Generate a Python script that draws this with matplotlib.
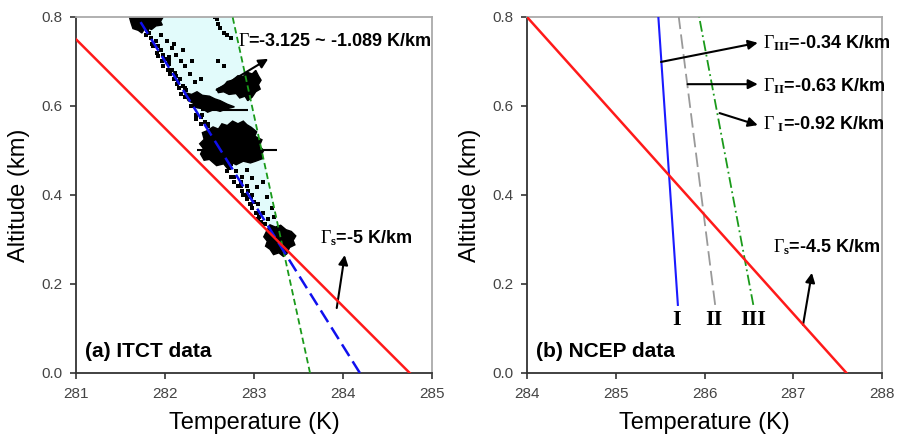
"""Lapse-rate comparison: ITCT sounding data vs NCEP profiles."""
import matplotlib
matplotlib.use("Agg")
import matplotlib.pyplot as plt

plt.rcParams["font.family"] = ["Liberation Sans", "DejaVu Sans"]
plt.rcParams["mathtext.fontset"] = "custom"
plt.rcParams["mathtext.rm"] = "Liberation Serif"
plt.rcParams["mathtext.it"] = "Liberation Serif:italic"
plt.rcParams["mathtext.bf"] = "Liberation Serif:bold"

# ---- panel (a): ITCT data ----
alt_a = [0.0, 0.8]
red_a = [284.75, 280.75]          # Gamma_s = -5 K/km
blue_a = [284.19, 281.69]         # -3.125 K/km
green_a = [283.63, 282.76]        # -1.089 K/km
fill_z = [0.275, 0.8]
fill_blue = [283.33, 281.69]
fill_green = [283.33, 282.76]

# dense clouds of sonde points (outline of each cloud)
blob1_T = [281.60, 281.98, 281.95, 281.97, 281.90, 281.85, 281.78, 281.74, 281.70, 281.64, 281.62]
blob1_z = [0.800, 0.800, 0.790, 0.782, 0.780, 0.772, 0.776, 0.764, 0.770, 0.774, 0.786]
blob2_T = [282.58, 282.66, 282.70, 282.76, 282.82, 282.88, 282.92, 282.98, 283.02, 283.05, 283.08,
           283.05, 283.07, 283.02, 282.98, 282.93, 282.90, 282.84, 282.80, 282.72, 282.66, 282.60]
blob2_z = [0.638, 0.645, 0.655, 0.658, 0.668, 0.666, 0.676, 0.672, 0.680, 0.668, 0.658,
           0.648, 0.638, 0.632, 0.620, 0.612, 0.622, 0.618, 0.628, 0.626, 0.632, 0.630]
blob3_T = [282.22, 282.30, 282.36, 282.42, 282.50, 282.56, 282.62, 282.70, 282.78,
           282.70, 282.62, 282.55, 282.48, 282.42, 282.36, 282.32, 282.26, 282.24]
blob3_z = [0.630, 0.626, 0.632, 0.624, 0.622, 0.616, 0.612, 0.604, 0.598,
           0.594, 0.588, 0.592, 0.586, 0.594, 0.596, 0.606, 0.612, 0.620]
blob4_T = [282.54, 282.60, 282.64, 282.70, 282.76, 282.82, 282.88, 282.92, 282.97, 283.03, 283.01,
           283.09, 283.06, 283.11, 283.08, 283.10, 283.02, 282.96, 282.88, 282.80, 282.76, 282.70,
           282.66, 282.58, 282.50, 282.44, 282.40, 282.43, 282.39, 282.44, 282.42, 282.48]
blob4_z = [0.553, 0.548, 0.560, 0.556, 0.566, 0.560, 0.566, 0.558, 0.552, 0.542, 0.532,
           0.524, 0.510, 0.500, 0.490, 0.482, 0.476, 0.472, 0.476, 0.468, 0.472, 0.460,
           0.470, 0.466, 0.480, 0.478, 0.492, 0.505, 0.515, 0.525, 0.540, 0.545]
blob5_T = [283.18, 283.24, 283.30, 283.36, 283.42, 283.47, 283.44, 283.46, 283.40,
           283.37, 283.33, 283.28, 283.22, 283.18, 283.13, 283.15, 283.11, 283.14]
blob5_z = [0.333, 0.328, 0.332, 0.322, 0.318, 0.308, 0.298, 0.288, 0.282,
           0.268, 0.262, 0.270, 0.266, 0.278, 0.285, 0.296, 0.306, 0.318]

# scattered individual points
dots_T = [281.80, 281.84, 281.90, 281.86, 281.95, 281.92, 282.00, 282.04, 281.98, 282.08,
          282.12, 282.06, 282.15, 282.20, 282.13, 282.24, 282.18, 281.95, 282.02, 282.08,
          282.12, 282.18, 282.22, 282.28, 282.34, 282.10, 282.20, 282.05, 282.30, 282.40,
          282.56, 282.58, 282.60, 282.62, 282.66, 282.70, 282.74, 282.70, 282.74, 282.78,
          282.82, 282.86, 282.88, 282.92, 282.95, 282.98, 283.02, 283.06, 283.04, 282.85,
          282.93, 282.97, 283.00, 283.08, 283.12, 282.92, 282.98, 283.03, 283.15, 283.10,
          283.20, 282.40, 282.45, 282.48, 282.22, 282.30, 282.35, 282.60, 282.66, 283.22,
          281.69, 281.74, 281.79, 281.85, 281.91, 281.97, 282.03, 282.10, 282.16, 282.22,
          282.29, 282.35, 282.41, 282.60, 282.66, 282.72, 282.78, 282.85, 282.91, 282.97,
          283.03, 281.76, 281.82, 281.92, 281.98, 282.04, 282.11, 282.17, 282.23, 282.29,
          282.35, 282.42, 282.48, 282.68, 282.74, 282.80, 282.86, 282.92, 282.98, 283.04,
          283.10, 283.16]
dots_z = [0.770, 0.752, 0.745, 0.735, 0.725, 0.712, 0.705, 0.695, 0.690, 0.680,
          0.668, 0.672, 0.655, 0.645, 0.650, 0.635, 0.628, 0.760, 0.745, 0.730,
          0.715, 0.700, 0.690, 0.672, 0.655, 0.740, 0.725, 0.710, 0.700, 0.660,
          0.800, 0.795, 0.785, 0.775, 0.765, 0.760, 0.752, 0.455, 0.440, 0.430,
          0.420, 0.410, 0.400, 0.390, 0.380, 0.370, 0.360, 0.350, 0.345, 0.430,
          0.410, 0.395, 0.385, 0.340, 0.335, 0.456, 0.438, 0.418, 0.396, 0.430,
          0.370, 0.575, 0.565, 0.555, 0.620, 0.600, 0.570, 0.700, 0.690, 0.350,
          0.790, 0.775, 0.760, 0.740, 0.720, 0.700, 0.680, 0.660, 0.640, 0.620,
          0.600, 0.580, 0.560, 0.500, 0.480, 0.460, 0.440, 0.420, 0.400, 0.380,
          0.360, 0.785, 0.765, 0.735, 0.715, 0.700, 0.675, 0.660, 0.640, 0.620,
          0.600, 0.580, 0.560, 0.490, 0.470, 0.455, 0.440, 0.420, 0.400, 0.380,
          0.360, 0.345]

err_z = [0.501, 0.591]
err_lo = [282.36, 282.40]
err_hi = [283.26, 282.93]

# ---- panel (b): NCEP data ----
alt_b = [0.0, 0.8]
red_b = [287.60, 284.00]          # Gamma_s = -4.5 K/km
prof_z = [0.153, 0.8]
prof_I = [285.70, 285.48]         # blue solid
prof_II = [286.12, 285.71]        # gray dashed
prof_III = [286.55, 285.94]       # green dash-dot
case_labels = ["I", "II", "III"]
case_T = [285.69, 286.11, 286.55]

TXT = dict(fontsize=13, fontweight="bold", ha="left", va="center", clip_on=False)
ARROW = dict(arrowstyle="-|>", color="black", lw=1.5, mutation_scale=14,
             shrinkA=0, shrinkB=0)


def style_axes(ax, xlim, xticks):
    ax.set_xlim(*xlim)
    ax.set_ylim(0, 0.8)
    ax.set_xticks(xticks)
    ax.set_xticklabels([str(t) for t in xticks])
    ax.set_yticks([0.0, 0.2, 0.4, 0.6, 0.8])
    ax.set_yticklabels([f"{v:.1f}" for v in [0.0, 0.2, 0.4, 0.6, 0.8]])
    ax.tick_params(direction="out", length=4, width=1.2, colors="#333333",
                   labelcolor="#444444", labelsize=11, pad=6)
    ax.spines["left"].set_color("#333333")
    ax.spines["bottom"].set_color("#333333")
    ax.spines["top"].set_color("#aaaaaa")
    ax.spines["right"].set_color("#aaaaaa")
    for s in ax.spines.values():
        s.set_linewidth(1.3)
    ax.set_xlabel("Temperature (K)", fontsize=17, labelpad=8)
    ax.set_ylabel("Altitude (km)", fontsize=17, labelpad=8)


fig = plt.figure(figsize=(8.99, 4.41), dpi=100)
ax1 = fig.add_axes([0.0845, 0.1542, 0.396, 0.8073])
ax2 = fig.add_axes([0.5862, 0.1542, 0.3949, 0.8073])

# panel (a)
ax1.fill_betweenx(fill_z, fill_blue, fill_green, color="#e2fbfb", lw=0, zorder=1)
for bt, bz in [(blob1_T, blob1_z), (blob2_T, blob2_z), (blob3_T, blob3_z),
               (blob4_T, blob4_z), (blob5_T, blob5_z)]:
    ax1.fill(bt, bz, color="black", lw=1.0, ec="black", zorder=2)
ax1.scatter(dots_T, dots_z, s=5, color="black", marker="s", lw=0, zorder=2)
ax1.hlines(err_z, err_lo, err_hi, color="black", lw=1.5, zorder=2)
ax1.plot(green_a, alt_a, color="#1a9a1a", lw=1.3, dashes=(3.5, 2), zorder=3)
ax1.plot(blue_a, alt_a, color="#1010ee", lw=1.8, dashes=(5.5, 2.5), zorder=3)
ax1.plot(red_a, alt_a, color="#ff1a1a", lw=1.8, zorder=4)
ax1.text(282.82, 0.744, r"$\Gamma$=-3.125 ~ -1.089 K/km", **TXT)
ax1.annotate("", xy=(283.16, 0.706), xytext=(282.58, 0.636), arrowprops=ARROW)
ax1.text(283.74, 0.303, r"$\Gamma_{\mathbf{s}}$=-5 K/km", **TXT)
ax1.annotate("", xy=(284.02, 0.265), xytext=(283.93, 0.146), arrowprops=ARROW)
ax1.text(281.1, 0.049, "(a) ITCT data", fontsize=15, fontweight="bold",
         ha="left", va="center")
style_axes(ax1, (281, 285), [281, 282, 283, 284, 285])

# panel (b)
ax2.plot(prof_I, prof_z, color="#1a1aff", lw=1.5, zorder=3)
ax2.plot(prof_II, prof_z, color="#999999", lw=1.3, dashes=(8, 3), zorder=3)
ax2.plot(prof_III, prof_z, color="#1a9a1a", lw=1.3, dashes=(6, 2, 1, 2), zorder=3)
ax2.plot(red_b, alt_b, color="#ff1a1a", lw=1.8, zorder=4)
for lab, t in zip(case_labels, case_T):
    ax2.text(t, 0.119, lab, fontsize=16, fontweight="bold", ha="center", va="center",
             family=["Liberation Serif", "DejaVu Serif"])
ax2.text(286.66, 0.741, r"$\Gamma_{\mathbf{III}}$=-0.34 K/km", **TXT)
ax2.annotate("", xy=(286.60, 0.742), xytext=(285.51, 0.699), arrowprops=ARROW)
ax2.text(286.66, 0.645, r"$\Gamma_{\mathbf{II}}$=-0.63 K/km", **TXT)
ax2.annotate("", xy=(286.60, 0.649), xytext=(285.81, 0.649), arrowprops=ARROW)
ax2.text(286.66, 0.560, r"$\Gamma\ _{\mathbf{I}}$=-0.92 K/km", **TXT)
ax2.annotate("", xy=(286.60, 0.557), xytext=(286.17, 0.584), arrowprops=ARROW)
ax2.text(286.77, 0.283, r"$\Gamma_{\mathbf{s}}$=-4.5 K/km", **TXT)
ax2.annotate("", xy=(287.21, 0.225), xytext=(287.11, 0.108), arrowprops=ARROW)
ax2.text(284.1, 0.049, "(b) NCEP data", fontsize=15, fontweight="bold",
         ha="left", va="center")
style_axes(ax2, (284, 288), [284, 285, 286, 287, 288])

fig.savefig("out.png", dpi=100)
